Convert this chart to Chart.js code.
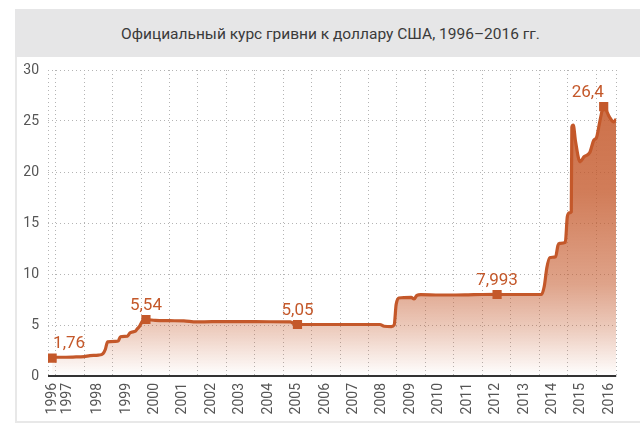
<!DOCTYPE html>
<html><head><meta charset="utf-8">
<script src="https://cdn.jsdelivr.net/npm/chart.js@4.4.0/dist/chart.umd.min.js"></script>
<style>
html,body{margin:0;padding:0;background:#fff;}
#wrap{position:relative;width:640px;height:426px;overflow:hidden;background:#fff;}
#band{position:absolute;left:15px;top:9px;width:625px;height:48px;background:#e6e6e7;}
#title{position:absolute;left:21px;top:10px;width:619px;height:48px;line-height:48px;text-align:center;font-family:Roboto,sans-serif;font-size:15.5px;color:#3a3a3a;}
#frame{position:absolute;left:15px;top:57px;width:640px;height:364px;border-left:2px solid #e8e8e8;border-bottom:2px solid #e8e8e8;}
canvas{position:absolute;left:0;top:0;}
</style></head>
<body>
<div id="wrap">
  <div id="band"></div>
  <div id="title">Официальный курс гривни к доллару США, 1996–2016 гг.</div>
  <div id="frame"></div>
  <canvas id="c" width="640" height="426"></canvas>
</div>
<script>
// ---- data ----
const rateYear = [1996.87,1996.95,1997.2,1997.6,1998.0,1998.2,1998.5,1998.66,1998.74,1998.82,1999.1,1999.2,1999.27,1999.52,1999.6,1999.66,1999.8,1999.86,1999.95,2000.05,2000.17,2000.5,2001.0,2001.5,2001.95,2002.5,2003.5,2004.5,2005.25,2005.42,2005.5,2006.5,2007.5,2008.4,2008.55,2008.8,2008.9,2008.97,2009.06,2009.5,2009.6,2009.7,2009.84,2010.5,2011.0,2011.5,2012.0,2012.52,2013.0,2013.5,2014.08,2014.18,2014.27,2014.37,2014.58,2014.66,2014.72,2014.92,2014.99,2015.06,2015.13,2015.15,2015.2,2015.28,2015.44,2015.58,2015.78,2015.92,2016.02,2016.13,2016.27,2016.47,2016.62,2016.71];
const rateValue = [1.76,1.84,1.84,1.86,1.9,2.0,2.05,2.2,2.6,3.35,3.4,3.45,3.85,3.9,4.2,4.3,4.4,4.6,4.9,5.4,5.54,5.45,5.42,5.4,5.3,5.33,5.33,5.32,5.3,5.06,5.05,5.05,5.05,5.05,4.88,4.85,5.0,7.0,7.65,7.7,7.55,7.9,7.98,7.94,7.94,7.96,7.99,7.993,7.99,7.99,7.99,8.8,10.6,11.6,11.7,12.8,13.0,13.1,15.6,16.0,16.1,24.4,24.6,23.0,21.0,21.5,21.9,23.1,23.4,24.9,26.4,25.4,24.9,25.2];
const markYear = [1996.87, 2000.17, 2005.5, 2012.52, 2016.27];
const markValue = [1.76, 5.54, 5.05, 7.993, 26.4];
const markText = ['1,76', '5,54', '5,05', '7,993', '26,4'];
const tickYears = [1996,1997,1998,1999,2000,2001,2002,2003,2004,2005,2006,2007,2008,2009,2010,2011,2012,2013,2014,2015,2016];
const yTicks = [0,5,10,15,20,25,30];
const X_MIN = 1996.725, X_MAX = 2016.71;

// ---- styling ----
const ORANGE = '#c4582a';
const GRID = '#b4b4b4';
const TICK = '#555';
const FONT = 'Roboto, sans-serif';

const labelPos = tickYears.map(y => y === 1996 ? 1996.88 : (y === 1997 ? 1997.42 : y + 0.47));
const gridPos = [X_MIN].concat(tickYears.filter(y => y > X_MIN && y < X_MAX)).concat([X_MAX]);

const overlay = {
  id: 'overlay',
  afterDatasetsDraw(chart) {
    const {ctx, chartArea, scales} = chart;
    const x = scales.x, y = scales.y;
    ctx.save();
    ctx.strokeStyle = '#333';
    ctx.lineWidth = 2;
    ctx.beginPath();
    ctx.moveTo(chartArea.left, y.getPixelForValue(0));
    ctx.lineTo(chartArea.right, y.getPixelForValue(0));
    ctx.stroke();
    ctx.fillStyle = ORANGE;
    ctx.font = '17px ' + FONT;
    ctx.textAlign = 'center';
    ctx.textBaseline = 'middle';
    markText.forEach((t, i) => {
      const px = x.getPixelForValue(markYear[i]);
      const py = y.getPixelForValue(markValue[i]);
      let dx = 0, dy = -14;
      if (i === 0) dx = 17;
      if (i === markText.length - 1) dx = -16;
      ctx.fillText(t, px + dx, py + dy);
    });
    ctx.restore();
  }
};

new Chart(document.getElementById('c'), {
  type: 'line',
  data: {
    datasets: [
      {
        data: markYear.map((v, i) => ({x: v, y: markValue[i]})),
        showLine: false,
        pointStyle: 'rect',
        pointRadius: 6.5,
        pointBackgroundColor: ORANGE,
        pointBorderWidth: 0,
        order: 0
      },
      {
        data: rateYear.map((v, i) => ({x: v, y: rateValue[i]})),
        borderColor: ORANGE,
        borderWidth: 3.2,
        pointRadius: 0,
        cubicInterpolationMode: 'monotone',
        fill: 'origin',
        order: 1,
        backgroundColor: (ctx) => {
          const ca = ctx.chart.chartArea;
          if (!ca) return 'rgba(196,88,42,0.4)';
          const g = ctx.chart.ctx.createLinearGradient(0, ca.bottom, 0, ca.top);
          g.addColorStop(0, 'rgba(196,88,42,0)');
          g.addColorStop(0.15, 'rgba(196,88,42,0.3)');
          g.addColorStop(0.3, 'rgba(196,88,42,0.55)');
          g.addColorStop(0.6, 'rgba(196,88,42,0.78)');
          g.addColorStop(1, 'rgba(196,88,42,0.88)');
          return g;
        }
      }
    ]
  },
  options: {
    responsive: false,
    animation: false,
    layout: {padding: {left: 0, right: 10, top: 70, bottom: 0}},
    plugins: {legend: {display: false}, tooltip: {enabled: false}},
    scales: {
      x: {
        type: 'linear',
        min: X_MIN,
        max: X_MAX,
        afterBuildTicks: (s) => {
          const t = gridPos.map(v => ({value: v, isGrid: true, lbl: ''}))
            .concat(labelPos.map((v, i) => ({value: v, isGrid: false, lbl: String(tickYears[i])})));
          t.sort((a, b) => a.value - b.value);
          s.ticks = t;
        },
        afterFit: (s) => { s.height = 50; },
        ticks: {
          autoSkip: false,
          minRotation: 90,
          maxRotation: 90,
          padding: 7,
          color: TICK,
          font: {family: FONT, size: 14},
          callback: (v, i, ticks) => ticks[i].lbl
        },
        grid: {
          drawTicks: false,
          lineWidth: 1,
          color: (c) => (c.tick && c.tick.isGrid) ? GRID : 'rgba(0,0,0,0)'
        },
        border: {display: false, dash: [1, 3]}
      },
      y: {
        min: 0,
        max: 30,
        afterBuildTicks: (s) => { s.ticks = yTicks.map(v => ({value: v})); },
        afterFit: (s) => { s.width = 48; },
        ticks: {
          padding: 9,
          color: TICK,
          font: {family: FONT, size: 14}
        },
        grid: {
          drawTicks: false,
          lineWidth: 1,
          color: (c) => (c.tick && c.tick.value === 0) ? 'rgba(0,0,0,0)' : GRID
        },
        border: {display: false, dash: [1, 3]}
      }
    }
  },
  plugins: [overlay]
});
</script>
</body></html>
